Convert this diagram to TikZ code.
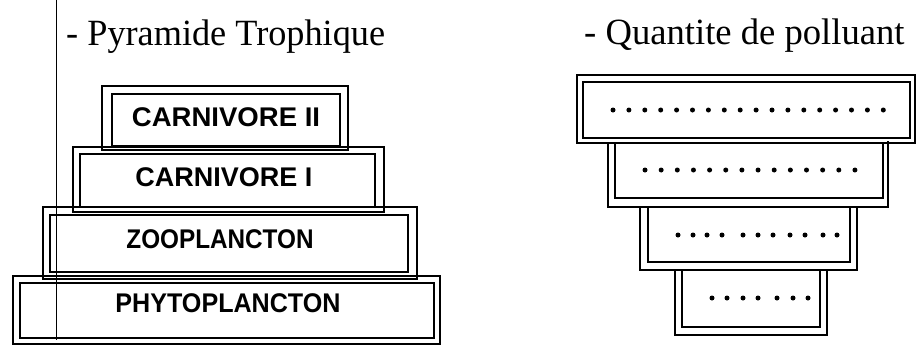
\documentclass[tikz,border=0pt]{standalone}
\usepackage{fontspec}
\setmainfont{Liberation Serif}
\newfontfamily\handfont{Liberation Sans}
\begin{document}
\begin{tikzpicture}[x=1pt,y=-1pt,
  boxline/.style={line width=2.1pt, line join=miter},
  titletext/.style={font=\fontsize{37}{40}\selectfont, anchor=base west, inner sep=0pt},
  labeltext/.style={font=\handfont\bfseries\fontsize{27}{29}\selectfont, inner sep=0pt},
  dotmark/.style={fill=black, draw=none}]
\useasboundingbox[fill=white] (0,0) rectangle (916,349);
% vertical margin line
\coordinate (vtop) at (56,0);
\coordinate (vbot) at (56,340);
\draw[line width=1pt] (vtop) -- (vbot);
% titles
\node[titletext] (t1) at (66,45) {\scalebox{0.98}[1]{- Pyramide Trophique}};
\node[titletext] (t2) at (584,44) {\scalebox{0.99}[1]{- Quantite de polluant}};
% left pyramid
\draw[boxline] (102,86) rectangle (348,150);
\draw[boxline] (112,94) rectangle (340,146);
\draw[boxline] (73,147) rectangle (384,212);
\draw[boxline] (80,154) rectangle (375,207);
\draw[boxline] (43,207) rectangle (417,279);
\draw[boxline] (50,215) rectangle (408,272);
\draw[boxline] (13,276) rectangle (440,344);
\draw[boxline] (20,283) rectangle (434,338);
\node[labeltext] (c2) at (226,117) {\scalebox{1.02}[1]{CARNIVORE II}};
\node[labeltext] (c1) at (224,177) {CARNIVORE I};
\node[labeltext] (zoo) at (220,239) {\scalebox{0.9}[1]{ZOOPLANCTON}};
\node[labeltext] (phy) at (228,303) {\scalebox{0.93}[1]{PHYTOPLANCTON}};
% right pyramid
\draw[boxline] (577,75) rectangle (915,143);
\draw[boxline] (583,82) rectangle (910,138);
\draw[boxline] (608,143) -- (608,207) -- (888,207) -- (888,141);
\draw[boxline] (615,143) -- (615,198) -- (883,198) -- (883,143);
\draw[boxline] (640,207) -- (640,270) -- (857,270) -- (857,207);
\draw[boxline] (648,207) -- (648,262) -- (850,262) -- (850,207);
\draw[boxline] (675,270) -- (675,335) -- (827,335) -- (827,270);
\draw[boxline] (682,270) -- (682,327) -- (820,327) -- (820,270);
% dotted lines
\foreach \i in {0,...,17} \fill[dotmark] (613+\i*15.9,110) circle (2.5);
\foreach \i in {0,...,13} \fill[dotmark] (645+\i*16.15,170) circle (2.5);
\foreach \x in {678,693,707,722,743,758,773,790,805,823,837} \fill[dotmark] (\x,235) circle (2.5);
\foreach \x in {712,727,743,758,777,793,808} \fill[dotmark] (\x,298) circle (2.5);
\end{tikzpicture}
\end{document}
